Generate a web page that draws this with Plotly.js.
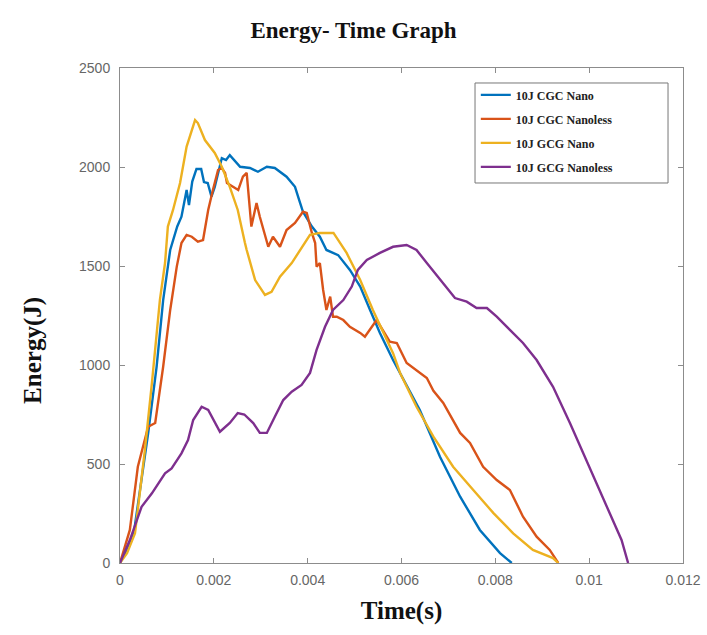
<!DOCTYPE html>
<html>
<head>
<meta charset="utf-8">
<script src="https://cdn.plot.ly/plotly-3.0.1.min.js"></script>
<style>html,body{margin:0;padding:0;background:#fff;}#chart{width:707px;height:635px;}</style>
</head>
<body>
<div id="chart"></div>
<script>
// Series names
const seriesNames = ["10J CGC Nano", "10J CGC Nanoless", "10J GCG Nano", "10J GCG Nanoless"];
const seriesColors = ["#0072BD", "#D95319", "#EDB120", "#7E2F8E"];

// 10J CGC Nano
const tCgcNano = [0, 0.00015, 0.0003, 0.00045, 0.0006, 0.00078, 0.00092, 0.00107, 0.00122, 0.00131, 0.00142, 0.00147, 0.00154, 0.00163, 0.00173, 0.00179, 0.00187, 0.00195, 0.00202, 0.00217, 0.00226, 0.00234, 0.0024, 0.00248, 0.00256, 0.00277, 0.00294, 0.00313, 0.0033, 0.00355, 0.00373, 0.00384, 0.0039, 0.00409, 0.00426, 0.0044, 0.00465, 0.0049, 0.00512, 0.00533, 0.00554, 0.00582, 0.00603, 0.00639, 0.00682, 0.00725, 0.00767, 0.0081, 0.00835];
const eCgcNano = [0, 70, 160, 400, 655, 991, 1328, 1581, 1700, 1749, 1884, 1808, 1926, 1990, 1990, 1924, 1919, 1850, 1899, 2045, 2035, 2060, 2045, 2025, 2001, 1995, 1976, 2001, 1995, 1951, 1900, 1818, 1774, 1699, 1648, 1581, 1555, 1480, 1396, 1278, 1162, 1025, 934, 773, 537, 335, 167, 50, 0];

// 10J CGC Nanoless
const tCgcNanoless = [0, 0.00021, 0.00038, 0.0006, 0.00075, 0.00092, 0.00107, 0.00121, 0.00131, 0.00142, 0.00153, 0.00166, 0.00177, 0.00188, 0.00198, 0.00209, 0.00217, 0.00224, 0.00228, 0.00241, 0.00252, 0.00262, 0.0027, 0.0028, 0.00291, 0.00298, 0.00309, 0.00316, 0.00326, 0.00341, 0.00355, 0.00373, 0.0039, 0.00398, 0.00409, 0.00416, 0.00419, 0.00426, 0.00433, 0.0044, 0.00448, 0.00454, 0.00462, 0.00476, 0.0049, 0.00512, 0.00522, 0.00537, 0.00547, 0.00575, 0.0059, 0.00611, 0.00632, 0.00654, 0.00668, 0.00689, 0.00725, 0.00746, 0.00774, 0.00803, 0.00831, 0.00859, 0.00888, 0.00916, 0.00934];
const eCgcNanoless = [0, 167, 486, 688, 707, 991, 1278, 1497, 1616, 1657, 1648, 1623, 1631, 1783, 1884, 1985, 1995, 1970, 1919, 1900, 1884, 1951, 1970, 1699, 1818, 1749, 1648, 1597, 1648, 1597, 1682, 1717, 1774, 1768, 1667, 1616, 1497, 1515, 1379, 1278, 1345, 1244, 1244, 1227, 1193, 1162, 1143, 1193, 1227, 1118, 1111, 1010, 975, 934, 870, 808, 657, 606, 486, 419, 369, 234, 133, 66, 0];

// 10J GCG Nano
const tGcgNano = [0, 0.00015, 0.00032, 0.00053, 0.00068, 0.00085, 0.00096, 0.00102, 0.00113, 0.00128, 0.00142, 0.0016, 0.00166, 0.00181, 0.00202, 0.00217, 0.00234, 0.00251, 0.00266, 0.0027, 0.00288, 0.00309, 0.00323, 0.00341, 0.00366, 0.00384, 0.00405, 0.00426, 0.00455, 0.00483, 0.00512, 0.00539, 0.00561, 0.00582, 0.00597, 0.00632, 0.00668, 0.0071, 0.00753, 0.00796, 0.00838, 0.0088, 0.00923, 0.00934];
const eGcgNano = [0, 50, 150, 570, 909, 1328, 1515, 1699, 1783, 1919, 2103, 2237, 2222, 2136, 2071, 2001, 1900, 1783, 1620, 1581, 1429, 1354, 1370, 1446, 1515, 1581, 1657, 1667, 1667, 1566, 1429, 1278, 1162, 1060, 960, 789, 638, 486, 369, 252, 150, 66, 25, 0];

// 10J GCG Nanoless
const tGcgNanoless = [0, 0.00021, 0.00046, 0.00068, 0.00096, 0.0011, 0.00131, 0.00145, 0.00156, 0.00174, 0.00188, 0.00202, 0.00213, 0.00234, 0.00251, 0.00265, 0.00284, 0.00298, 0.00313, 0.0033, 0.00348, 0.00366, 0.00387, 0.00405, 0.00419, 0.00437, 0.00454, 0.00476, 0.00494, 0.00507, 0.00526, 0.00554, 0.00582, 0.00611, 0.00632, 0.00654, 0.00689, 0.00714, 0.00739, 0.0076, 0.00782, 0.00803, 0.00831, 0.00859, 0.00888, 0.00923, 0.00959, 0.00987, 0.01016, 0.01044, 0.01069, 0.01083];
const eGcgNanoless = [0, 116, 284, 352, 453, 478, 554, 621, 722, 789, 773, 707, 663, 707, 757, 750, 707, 657, 657, 739, 823, 865, 899, 960, 1076, 1193, 1278, 1328, 1396, 1480, 1530, 1566, 1597, 1606, 1581, 1515, 1414, 1338, 1320, 1288, 1288, 1244, 1177, 1111, 1025, 890, 707, 555, 404, 252, 116, 0];

// Axis ticks
const xTicks = [0, 0.002, 0.004, 0.006, 0.008, 0.01, 0.012];
const xTickLabels = ["0", "0.002", "0.004", "0.006", "0.008", "0.01", "0.012"];
const yTicks = [0, 500, 1000, 1500, 2000, 2500];

const xs = [tCgcNano, tCgcNanoless, tGcgNano, tGcgNanoless];
const ys = [eCgcNano, eCgcNanoless, eGcgNano, eGcgNanoless];

const traces = seriesNames.map((name, i) => ({
  type: "scatter", mode: "lines", name: name,
  x: xs[i], y: ys[i], legendgroup: "g" + i,
  line: {color: seriesColors[i], width: 2.4}
}));

const serif = "Liberation Serif, Times New Roman, serif";
const axisColor = "#8c8c8c";

const layout = {
  width: 707, height: 635,
  margin: {l: 120, r: 24, t: 68, b: 72},
  paper_bgcolor: "#fff", plot_bgcolor: "#fff",
  title: {text: "<b>Energy- Time Graph</b>", x: 0.5, xref: "container", y: 0.953, yanchor: "middle",
          font: {family: serif, size: 23, color: "#111"}},
  xaxis: {
    range: [0, 0.012], tickvals: xTicks, ticktext: xTickLabels,
    showgrid: false, zeroline: false, showline: true, mirror: "ticks",
    linecolor: axisColor, linewidth: 1, ticks: "inside", ticklen: 5, tickcolor: axisColor,
    tickfont: {family: "Liberation Sans, Arial, sans-serif", size: 14, color: "#666"},
    ticklabelstandoff: 4,
    title: {text: "<b>Time(s)</b>", font: {family: serif, size: 25, color: "#111"}, standoff: 14}
  },
  yaxis: {
    range: [0, 2500], tickvals: yTicks,
    showgrid: false, zeroline: false, showline: true, mirror: "ticks",
    linecolor: axisColor, linewidth: 1, ticks: "inside", ticklen: 5, tickcolor: axisColor,
    tickfont: {family: "Liberation Sans, Arial, sans-serif", size: 14, color: "#666"},
    ticklabelstandoff: 6
  },
  annotations: [{
    text: "<b>Energy(J)</b>", textangle: -90, xref: "paper", yref: "paper",
    x: -0.155, y: 0.43, xanchor: "center", yanchor: "middle", showarrow: false,
    font: {family: serif, size: 25, color: "#111"}
  }],
  shapes: [{
    type: "rect", xref: "paper", yref: "paper", x0: 0.6306, x1: 0.9734, y0: 0.7677, y1: 0.9697,
    line: {color: "#777", width: 1}, fillcolor: "rgba(0,0,0,0)", layer: "above"
  }],
  showlegend: true,
  legend: {
    x: 0.632, y: 0.975, xanchor: "left", yanchor: "top",
    bgcolor: "rgba(255,255,255,0)", borderwidth: 0,
    font: {family: serif, size: 12, color: "#222", weight: "bold"},
    tracegroupgap: 5, traceorder: "grouped"
  }
};

Plotly.newPlot("chart", traces, layout, {displayModeBar: false, staticPlot: true});
</script>
</body>
</html>
